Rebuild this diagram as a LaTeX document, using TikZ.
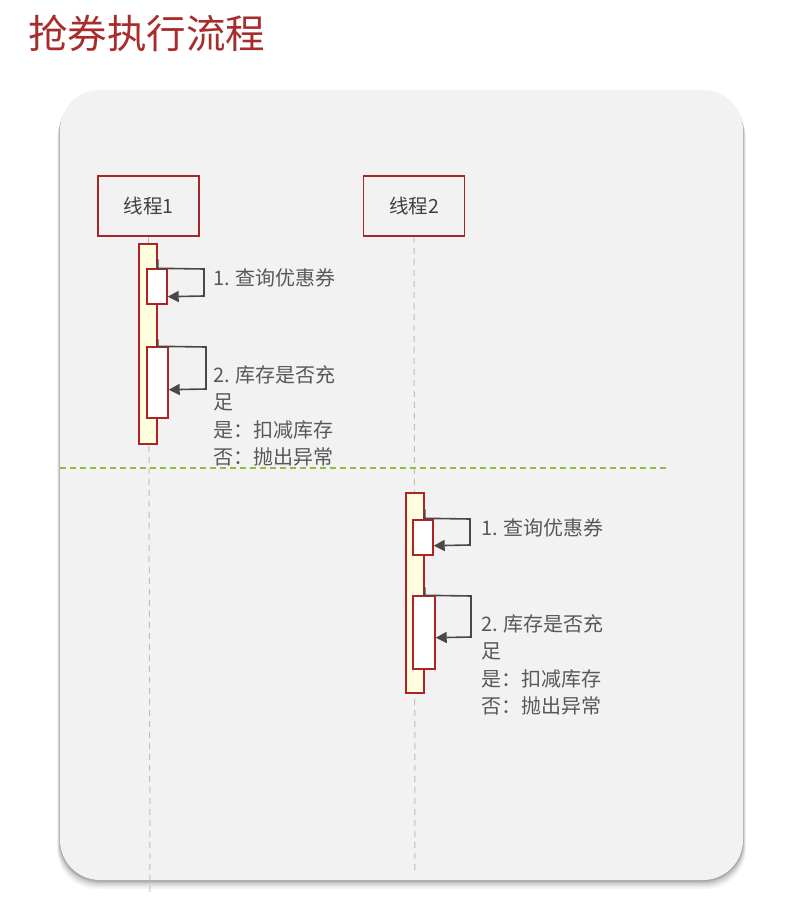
\documentclass[tikz,border=0pt]{standalone}
\usepackage{fontspec}
\setmainfont{Noto Sans CJK SC}
\usetikzlibrary{arrows.meta,calc}
\definecolor{titlered}{RGB}{168,44,44}
\definecolor{boxred}{RGB}{160,40,40}
\definecolor{barred}{RGB}{178,34,34}
\definecolor{panel}{RGB}{242,242,242}
\definecolor{baryellow}{RGB}{255,255,224}
\definecolor{msggray}{RGB}{72,72,72}
\definecolor{txtgray}{RGB}{88,88,88}
\definecolor{lifegray}{RGB}{190,190,190}
\definecolor{sepgreen}{RGB}{146,188,70}
\begin{document}
\begin{tikzpicture}[x=1pt,y=-1pt,
  thread/.style={draw=boxred,line width=1.8pt,fill=panel,minimum width=101pt,minimum height=60pt,inner sep=0pt,text=black!75,font=\fontsize{19.5}{22}\selectfont},
  actbar/.style={draw=barred,line width=1.4pt,fill=baryellow,minimum width=18pt,minimum height=200pt,inner sep=0pt},
  actbox/.style={draw=barred,line width=1.4pt,fill=white,inner sep=0pt},
  msg/.style={draw=msggray,line width=1.6pt,-{Triangle[length=11pt,width=11pt]}},
  life/.style={draw=lifegray,line width=1pt,dash pattern=on 6pt off 5pt},
  sep/.style={draw=sepgreen,line width=1.4pt,dash pattern=on 6pt off 4pt},
  lab/.style={anchor=west,inner sep=0pt,align=left,text=txtgray,font=\fontsize{20}{27.5}\selectfont}]
\useasboundingbox (0,0) rectangle (806,904);
% title
\node[anchor=west,inner sep=0pt,text=titlered,font=\fontsize{39.5}{44}\selectfont] (title) at (28,33) {抢券执行流程};
% panel with shadow
\foreach \d/\o in {9/0.04,7/0.06,5/0.08,3/0.10,1.5/0.12}
  \fill[black,opacity=\o,rounded corners=40pt] (60-\d/3,90+\d) rectangle (743+\d/3,880+\d);
\fill[panel,rounded corners=40pt] (60,90) rectangle (743,880);
% threads
\node[thread] (t1) at (148.5,206) {线程1};
\node[thread] (t2) at (414,206) {线程2};
% lifelines
\draw[life] (t1.south) -- (150,893);
\draw[life] (t2.south) -- (415,875);
% separator
\draw[sep] (60,468) -- (668,468);
% thread 1 activations
\node[actbar] (bar1) at (148,344) {};
\node[actbox,minimum width=20pt,minimum height=35pt] (act1a) at (157,286.5) {};
\node[actbox,minimum width=21pt,minimum height=71pt] (act1b) at (157.5,382.5) {};
\draw[msg] ($(bar1.north east)+(0,16)$) -- ++(0,9) -- (204,269) -- (204,296) -- ($(act1a.south east)+(0,-8)$);
\draw[msg] ($(bar1.north east)+(0,96)$) -- ++(0,7) -- (206,347) -- (206,389) -- ($(act1b.south east)+(0,-29)$);
\node[lab] (l1a) at (213,278) {1. 查询优惠券};
\node[lab] (l1b) at (213,416) {2. 库存是否充\\足\\是：扣减库存\\否：抛出异常};
% thread 2 activations
\node[actbar] (bar2) at (415,593) {};
\node[actbox,minimum width=20pt,minimum height=35pt] (act2a) at (423,537.5) {};
\node[actbox,minimum width=22pt,minimum height=73pt] (act2b) at (424,632.5) {};
\draw[msg] ($(bar2.north east)+(0,17)$) -- ++(0,9) -- (470,519) -- (470,545) -- ($(act2a.south east)+(0,-10)$);
\draw[msg] ($(bar2.north east)+(0,95)$) -- ++(0,8) -- (471,596) -- (471,637) -- ($(act2b.south east)+(0,-32)$);
\node[lab] (l2a) at (481,528) {1. 查询优惠券};
\node[lab] (l2b) at (481,665) {2. 库存是否充\\足\\是：扣减库存\\否：抛出异常};
\end{tikzpicture}
\end{document}
